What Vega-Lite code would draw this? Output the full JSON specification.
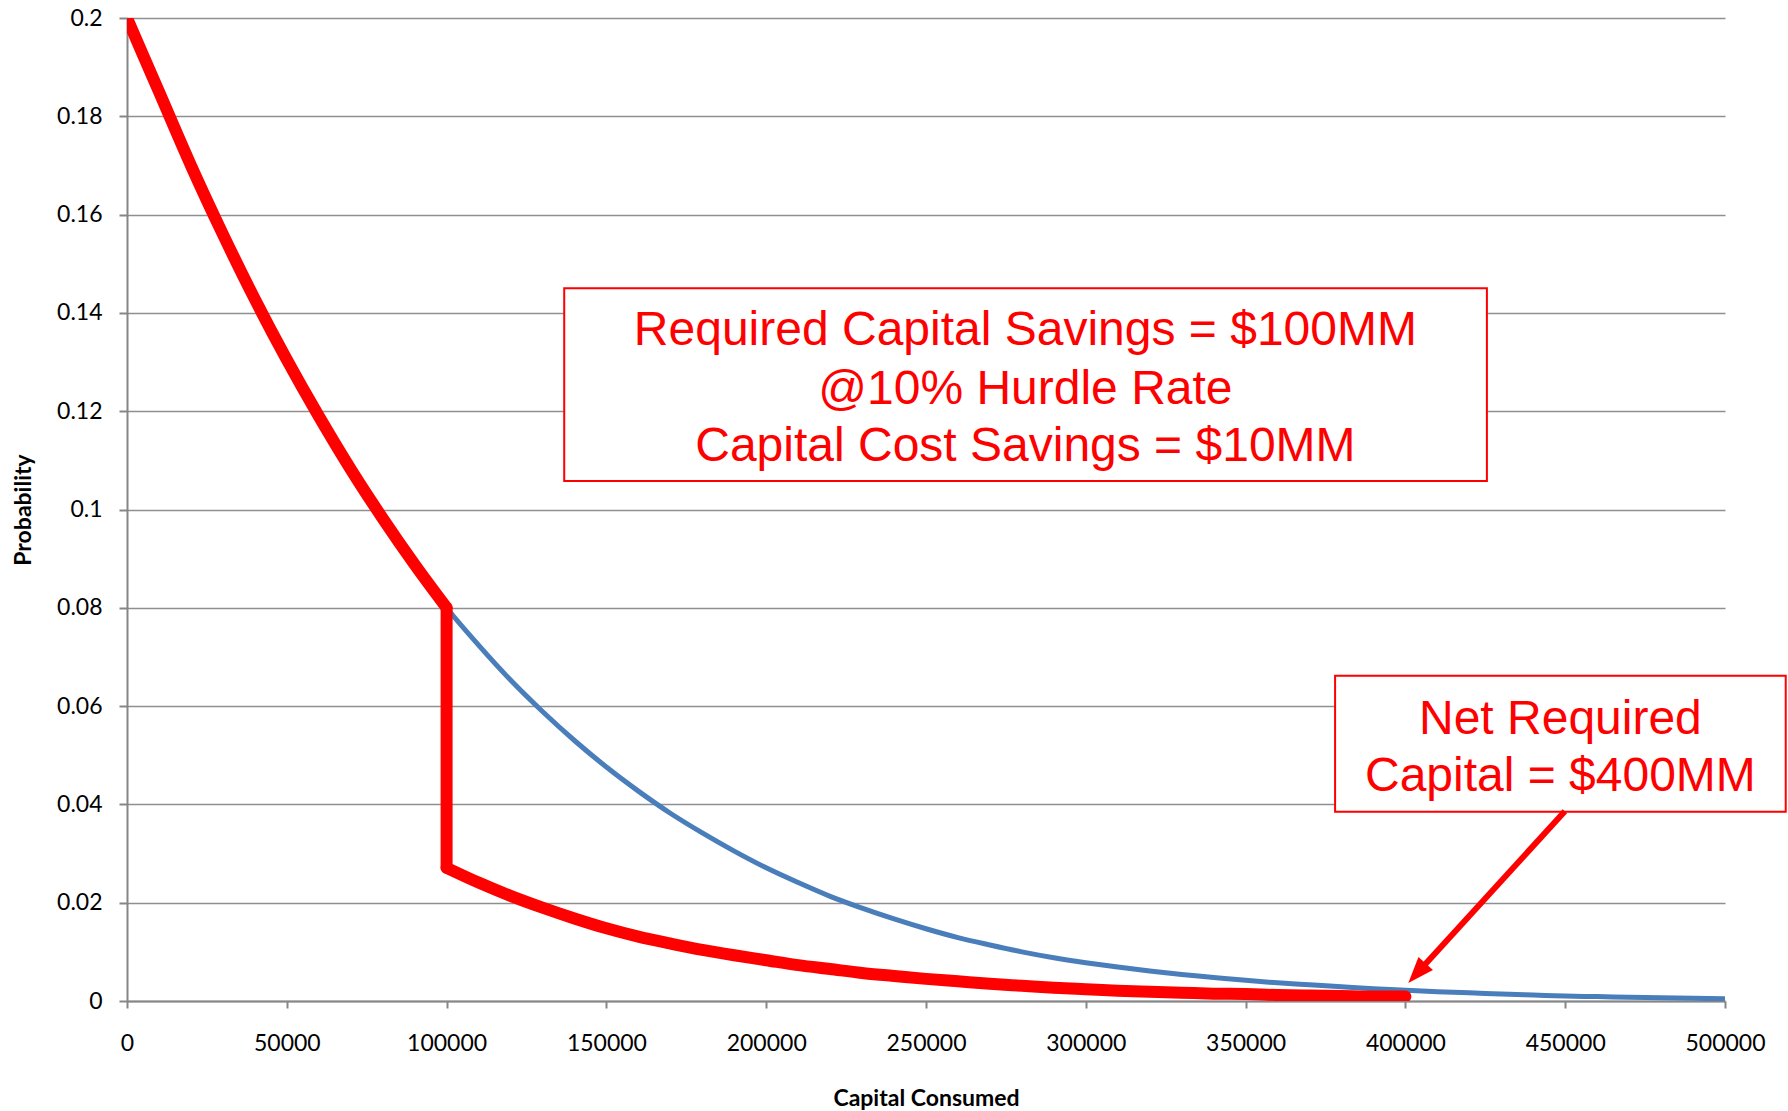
{
  "$schema": "https://vega.github.io/schema/vega-lite/v6.json",
  "width": 1598,
  "height": 983,
  "autosize": "none",
  "padding": {"left": 127, "top": 18, "right": 63, "bottom": 110},
  "background": "white",
  "config": {"view": {"stroke": null}, "font": "Lato"},
  "datasets": {
    "base": [
      {"i": 0, "x": 0, "p": 0.2},
      {"i": 1, "x": 10000, "p": 0.185},
      {"i": 2, "x": 20000, "p": 0.17},
      {"i": 3, "x": 30000, "p": 0.156},
      {"i": 4, "x": 40000, "p": 0.1428},
      {"i": 5, "x": 50000, "p": 0.1305},
      {"i": 6, "x": 60000, "p": 0.119},
      {"i": 7, "x": 70000, "p": 0.1082},
      {"i": 8, "x": 80000, "p": 0.0982},
      {"i": 9, "x": 90000, "p": 0.0888},
      {"i": 10, "x": 100000, "p": 0.08},
      {"i": 11, "x": 110000, "p": 0.0724},
      {"i": 12, "x": 120000, "p": 0.0653},
      {"i": 13, "x": 130000, "p": 0.0589},
      {"i": 14, "x": 140000, "p": 0.053},
      {"i": 15, "x": 150000, "p": 0.0476},
      {"i": 16, "x": 160000, "p": 0.0427},
      {"i": 17, "x": 170000, "p": 0.0382},
      {"i": 18, "x": 180000, "p": 0.0342},
      {"i": 19, "x": 190000, "p": 0.0305},
      {"i": 20, "x": 200000, "p": 0.0271},
      {"i": 21, "x": 210000, "p": 0.0241},
      {"i": 22, "x": 220000, "p": 0.0213},
      {"i": 23, "x": 230000, "p": 0.0189},
      {"i": 24, "x": 240000, "p": 0.0167},
      {"i": 25, "x": 250000, "p": 0.0147},
      {"i": 26, "x": 260000, "p": 0.0129},
      {"i": 27, "x": 270000, "p": 0.0114},
      {"i": 28, "x": 280000, "p": 0.01},
      {"i": 29, "x": 290000, "p": 0.0088},
      {"i": 30, "x": 300000, "p": 0.0078},
      {"i": 31, "x": 310000, "p": 0.0069},
      {"i": 32, "x": 320000, "p": 0.0061},
      {"i": 33, "x": 330000, "p": 0.0054},
      {"i": 34, "x": 340000, "p": 0.0048},
      {"i": 35, "x": 350000, "p": 0.0042},
      {"i": 36, "x": 360000, "p": 0.0037},
      {"i": 37, "x": 370000, "p": 0.0033},
      {"i": 38, "x": 380000, "p": 0.0029},
      {"i": 39, "x": 390000, "p": 0.0025},
      {"i": 40, "x": 400000, "p": 0.0022},
      {"i": 41, "x": 410000, "p": 0.0019},
      {"i": 42, "x": 420000, "p": 0.0017},
      {"i": 43, "x": 430000, "p": 0.0014},
      {"i": 44, "x": 440000, "p": 0.0012},
      {"i": 45, "x": 450000, "p": 0.001},
      {"i": 46, "x": 460000, "p": 0.0009},
      {"i": 47, "x": 470000, "p": 0.00075},
      {"i": 48, "x": 480000, "p": 0.00065},
      {"i": 49, "x": 490000, "p": 0.00055},
      {"i": 50, "x": 500000, "p": 0.00045}
    ],
    "net": [
      {"seg": "before", "x": 0, "p": 0.2},
      {"seg": "before", "x": 10000, "p": 0.185},
      {"seg": "before", "x": 20000, "p": 0.17},
      {"seg": "before", "x": 30000, "p": 0.156},
      {"seg": "before", "x": 40000, "p": 0.1428},
      {"seg": "before", "x": 50000, "p": 0.1305},
      {"seg": "before", "x": 60000, "p": 0.119},
      {"seg": "before", "x": 70000, "p": 0.1082},
      {"seg": "before", "x": 80000, "p": 0.0982},
      {"seg": "before", "x": 90000, "p": 0.0888},
      {"seg": "before", "x": 100000, "p": 0.08},
      {"seg": "after", "x": 100000, "p": 0.0271},
      {"seg": "after", "x": 110000, "p": 0.0241},
      {"seg": "after", "x": 120000, "p": 0.0214},
      {"seg": "after", "x": 130000, "p": 0.019},
      {"seg": "after", "x": 140000, "p": 0.0168},
      {"seg": "after", "x": 150000, "p": 0.0148},
      {"seg": "after", "x": 160000, "p": 0.0131},
      {"seg": "after", "x": 170000, "p": 0.0117},
      {"seg": "after", "x": 180000, "p": 0.0104},
      {"seg": "after", "x": 190000, "p": 0.0093},
      {"seg": "after", "x": 200000, "p": 0.0083},
      {"seg": "after", "x": 210000, "p": 0.0073},
      {"seg": "after", "x": 220000, "p": 0.0065},
      {"seg": "after", "x": 230000, "p": 0.0057},
      {"seg": "after", "x": 240000, "p": 0.0051},
      {"seg": "after", "x": 250000, "p": 0.0045},
      {"seg": "after", "x": 260000, "p": 0.004},
      {"seg": "after", "x": 270000, "p": 0.0035},
      {"seg": "after", "x": 280000, "p": 0.0031},
      {"seg": "after", "x": 290000, "p": 0.0027},
      {"seg": "after", "x": 300000, "p": 0.0024},
      {"seg": "after", "x": 310000, "p": 0.0021},
      {"seg": "after", "x": 320000, "p": 0.0019},
      {"seg": "after", "x": 330000, "p": 0.0017},
      {"seg": "after", "x": 340000, "p": 0.0015},
      {"seg": "after", "x": 350000, "p": 0.0014},
      {"seg": "after", "x": 360000, "p": 0.0012},
      {"seg": "after", "x": 370000, "p": 0.0011},
      {"seg": "after", "x": 380000, "p": 0.001},
      {"seg": "after", "x": 390000, "p": 0.0009},
      {"seg": "after", "x": 400000, "p": 0.0009}
    ],
    "drop": [
      {"x": 100000, "p": 0.08, "p2": 0.0271}
    ],
    "boxes": [
      {"x1": 136800, "x2": 425500, "y1": 0.145, "y2": 0.1058},
      {"x1": 378000, "x2": 519000, "y1": 0.0662, "y2": 0.0385}
    ],
    "notes": [
      {"label": "Required Capital Savings = $100MM", "x": 281100, "y": 0.1363},
      {"label": "@10% Hurdle Rate", "x": 281100, "y": 0.1244},
      {"label": "Capital Cost Savings = $10MM", "x": 281100, "y": 0.1128},
      {"label": "Net Required", "x": 448500, "y": 0.0572},
      {"label": "Capital = $400MM", "x": 448500, "y": 0.0455}
    ],
    "arrow": [
      {"x": 449900, "y": 0.0386, "x2": 403630, "y2": 0.00565}
    ]
  },
  "encoding": {
    "x": {
      "type": "quantitative",
      "scale": {"domain": [0, 500000], "nice": false, "zero": false},
      "axis": {
        "title": "Capital Consumed",
        "values": [0, 50000, 100000, 150000, 200000, 250000, 300000, 350000, 400000, 450000, 500000],
        "format": "d",
        "grid": false,
        "labelFlush": false,
        "domainColor": "#868686", "domainWidth": 2,
        "tickColor": "#868686", "tickWidth": 2, "tickSize": 7,
        "labelPadding": 24, "labelFont": "Lato", "labelFontSize": 23, "labelColor": "#000000",
        "titleFont": "Lato", "titleFontWeight": "bold", "titleFontSize": 23, "titleColor": "#000000",
        "titlePadding": 32
      }
    },
    "y": {
      "type": "quantitative",
      "scale": {"domain": [0, 0.2], "nice": false, "zero": false},
      "axis": {
        "title": "Probability",
        "values": [0, 0.02, 0.04, 0.06, 0.08, 0.1, 0.12, 0.14, 0.16, 0.18, 0.2],
        "format": ".2~f",
        "grid": true, "gridColor": "#8f8f8f", "gridWidth": 1.5,
        "labelFlush": false,
        "domainColor": "#868686", "domainWidth": 2,
        "tickColor": "#868686", "tickWidth": 2, "tickSize": 8,
        "labelPadding": 17, "labelFont": "Lato", "labelFontSize": 23, "labelColor": "#000000",
        "titleFont": "Lato", "titleFontWeight": "bold", "titleFontSize": 23, "titleColor": "#000000",
        "titlePadding": 21
      }
    }
  },
  "layer": [
    {
      "data": {"name": "base"},
      "mark": {"type": "line", "color": "#4A7EBB", "strokeWidth": 5, "strokeCap": "round", "strokeJoin": "round", "interpolate": "monotone", "clip": true},
      "encoding": {
        "x": {"field": "x", "type": "quantitative"},
        "y": {"field": "p", "type": "quantitative"},
        "order": {"field": "i", "type": "quantitative"}
      }
    },
    {
      "data": {"name": "net"},
      "mark": {"type": "line", "color": "#FF0000", "strokeWidth": 12, "strokeCap": "round", "strokeJoin": "round", "interpolate": "monotone", "clip": true},
      "encoding": {
        "x": {"field": "x", "type": "quantitative"},
        "y": {"field": "p", "type": "quantitative"},
        "detail": {"field": "seg", "type": "nominal"}
      }
    },
    {
      "data": {"name": "drop"},
      "mark": {"type": "rule", "color": "#FF0000", "strokeWidth": 12, "strokeCap": "round", "clip": true},
      "encoding": {
        "x": {"field": "x", "type": "quantitative"},
        "y": {"field": "p", "type": "quantitative"},
        "y2": {"field": "p2"}
      }
    },
    {
      "data": {"name": "boxes"},
      "mark": {"type": "rect", "fill": "#FFFFFF", "stroke": "#FF0000", "strokeWidth": 2},
      "encoding": {
        "x": {"field": "x1", "type": "quantitative"},
        "x2": {"field": "x2"},
        "y": {"field": "y1", "type": "quantitative"},
        "y2": {"field": "y2"}
      }
    },
    {
      "data": {"name": "notes"},
      "mark": {"type": "text", "font": "Liberation Sans", "fontSize": 48, "color": "#FF0000", "align": "center", "baseline": "middle"},
      "encoding": {
        "x": {"field": "x", "type": "quantitative"},
        "y": {"field": "y", "type": "quantitative"},
        "text": {"field": "label"}
      }
    },
    {
      "data": {"name": "arrow"},
      "mark": {"type": "rule", "color": "#FF0000", "strokeWidth": 6},
      "encoding": {
        "x": {"field": "x", "type": "quantitative"},
        "y": {"field": "y", "type": "quantitative"},
        "x2": {"field": "x2"},
        "y2": {"field": "y2"}
      }
    },
    {
      "data": {"name": "arrow"},
      "mark": {"type": "point", "shape": "M0,-1L-0.75,1L0.75,1Z", "size": 676, "angle": 222, "filled": true, "color": "#FF0000", "opacity": 1, "strokeWidth": 0},
      "encoding": {
        "x": {"field": "x2", "type": "quantitative"},
        "y": {"field": "y2", "type": "quantitative"}
      }
    }
  ]
}
